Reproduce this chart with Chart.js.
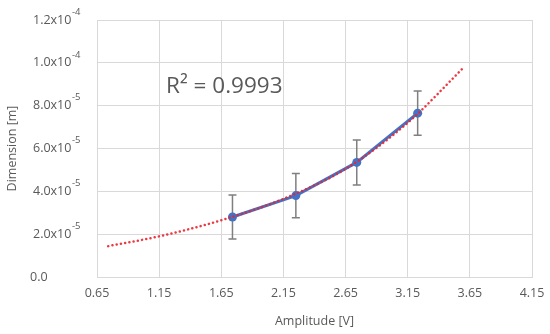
<!DOCTYPE html>
<html>
<head>
<meta charset="utf-8">
<script src="https://cdn.jsdelivr.net/npm/chart.js@4"></script>
<style>
  body { margin: 0; background: #fff; }
  #wrap { width: 550px; height: 334px; }
</style>
</head>
<body>
<div id="wrap"><canvas id="dimensionChart" width="550" height="334"></canvas></div>
<script>
// measured points
const amplitude = [1.74, 2.25, 2.74, 3.23];
const dimension = [2.8e-5, 3.8e-5, 5.35e-5, 7.65e-5];
const errorBar = [1.03e-5, 1.03e-5, 1.05e-5, 1.03e-5];

// exponential trendline
const trendX = [0.74, 1.15, 1.65, 2.15, 2.65, 3.15, 3.6];
const trendY = [1.44e-5, 1.9e-5, 2.65e-5, 3.65e-5, 5.05e-5, 7.2e-5, 9.78e-5];

const xTicks = [0.65, 1.15, 1.65, 2.15, 2.65, 3.15, 3.65, 4.15];
const yTicks = [0, 2e-5, 4e-5, 6e-5, 8e-5, 1e-4, 1.2e-4];
const yTickLabels = ['0.0', '2.0x10', '4.0x10', '6.0x10', '8.0x10', '1.0x10', '1.2x10'];
const yTickExp = ['', '-5', '-5', '-5', '-5', '-4', '-4'];

const rSquared = 'R\u00B2 = 0.9993';

const FONT = "'Open Sans', sans-serif";
const TEXT = '#595959';

const errorBarsPlugin = {
    id: 'errorBars',
    beforeDatasetsDraw(chart) {
        const { ctx, scales: { x, y } } = chart;
        ctx.save();
        ctx.strokeStyle = '#7f7f7f';
        ctx.lineWidth = 1.5;
        amplitude.forEach((a, i) => {
            const px = x.getPixelForValue(a);
            const top = y.getPixelForValue(dimension[i] + errorBar[i]);
            const bot = y.getPixelForValue(dimension[i] - errorBar[i]);
            ctx.beginPath();
            ctx.moveTo(px, top); ctx.lineTo(px, bot);
            ctx.moveTo(px - 4, top); ctx.lineTo(px + 4, top);
            ctx.moveTo(px - 4, bot); ctx.lineTo(px + 4, bot);
            ctx.stroke();
        });
        ctx.restore();
    }
};

const labelsPlugin = {
    id: 'labels',
    afterDraw(chart) {
        const { ctx, scales: { y } } = chart;
        ctx.save();
        ctx.fillStyle = TEXT;
        ctx.textBaseline = 'middle';
        ctx.textAlign = 'left';
        yTicks.forEach((v, i) => {
            const py = y.getPixelForValue(v);
            ctx.font = `12.5px ${FONT}`;
            const lx = i === 0 ? 30 : 33;
            ctx.fillText(yTickLabels[i], lx, py);
            if (yTickExp[i]) {
                const w = ctx.measureText(yTickLabels[i]).width;
                ctx.font = `9.5px ${FONT}`;
                ctx.fillText(yTickExp[i], lx + w + 0.5, py - 8);
            }
        });
        // R squared label
        ctx.font = `22.5px ${FONT}`;
        ctx.textBaseline = 'alphabetic';
        ctx.fillText(rSquared, 166, 93);
        ctx.restore();
    }
};

new Chart(document.getElementById('dimensionChart').getContext('2d'), {
    type: 'scatter',
    data: {
        datasets: [
            {
                label: 'Trend',
                data: trendX.map((v, i) => ({ x: v, y: trendY[i] })),
                showLine: true,
                borderColor: 'rgba(235, 35, 45, 0.9)',
                borderWidth: 2.5,
                borderDash: [0.1, 4.2],
                borderCapStyle: 'round',
                cubicInterpolationMode: 'monotone',
                pointRadius: 0,
                fill: false
            },
            {
                label: 'Dimension',
                data: amplitude.map((v, i) => ({ x: v, y: dimension[i] })),
                showLine: true,
                borderColor: '#4472C4',
                borderWidth: 3,
                backgroundColor: '#4472C4',
                pointRadius: 4.5,
                pointBorderWidth: 0,
                pointBackgroundColor: '#4472C4'
            }
        ]
    },
    options: {
        responsive: false,
        animation: false,
        layout: { padding: { top: 20, right: 18, left: 0, bottom: 0 } },
        plugins: {
            legend: { display: false },
            tooltip: { enabled: false }
        },
        scales: {
            x: {
                type: 'linear',
                min: 0.65,
                max: 4.15,
                afterBuildTicks: axis => { axis.ticks = xTicks.map(v => ({ value: v })); },
                afterFit: axis => {
                    axis.height = 57;
                    axis.paddingLeft = 0;
                    axis.paddingRight = 0;
                },
                grid: { color: '#d9d9d9', lineWidth: 1, drawTicks: false },
                border: { color: '#d9d9d9' },
                ticks: {
                    padding: 9,
                    color: TEXT,
                    font: { family: FONT, size: 12.5 },
                    maxRotation: 0,
                    callback: v => v.toFixed(2)
                },
                title: {
                    display: true,
                    text: 'Amplitude [V]',
                    color: TEXT,
                    font: { family: FONT, size: 12.5 },
                    padding: { top: 0, bottom: 5 }
                }
            },
            y: {
                type: 'linear',
                min: 0,
                max: 1.2e-4,
                afterBuildTicks: axis => { axis.ticks = yTicks.map(v => ({ value: v })); },
                afterFit: axis => { axis.width = 97; },
                grid: { color: '#d9d9d9', lineWidth: 1, drawTicks: false },
                border: { color: '#d9d9d9' },
                ticks: { display: false },
                title: {
                    display: true,
                    text: 'Dimension [m]',
                    color: TEXT,
                    font: { family: FONT, size: 12.5 },
                    padding: { top: 5, bottom: 0 }
                }
            }
        }
    },
    plugins: [errorBarsPlugin, labelsPlugin]
});
</script>
</body>
</html>
